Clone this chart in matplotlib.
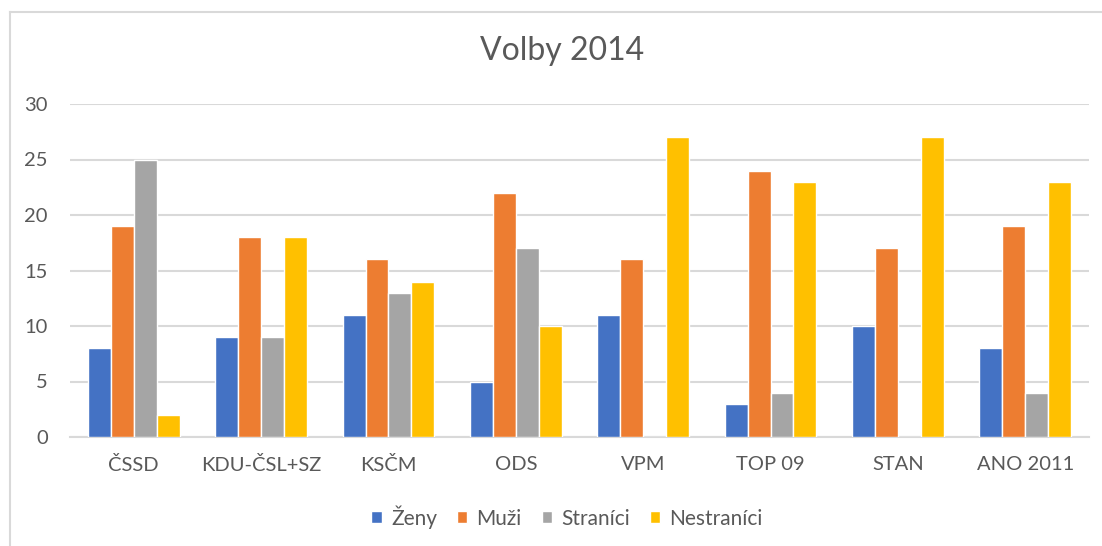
import numpy as np
import matplotlib
matplotlib.use("Agg")
import matplotlib.pyplot as plt
from matplotlib.lines import Line2D

# Data
strany = ["ČSSD", "KDU-ČSL+SZ", "KSČM", "ODS", "VPM", "TOP 09", "STAN", "ANO 2011"]
zeny = [8, 9, 11, 5, 11, 3, 10, 8]
muzi = [19, 18, 16, 22, 16, 24, 17, 19]
stranici = [25, 9, 13, 17, 0, 4, 0, 4]
nestranici = [2, 18, 14, 10, 27, 23, 27, 23]

serie = ["Ženy", "Muži", "Straníci", "Nestraníci"]
barvy = ["#4472C4", "#ED7D31", "#A5A5A5", "#FFC000"]
text_barva = "#595959"
mrizka = "#D9D9D9"

plt.rcParams["font.family"] = ["Lato", "DejaVu Sans"]

fig = plt.figure(figsize=(11.02, 5.46), dpi=100)
ax = fig.add_axes([70 / 1102, 1 - 437 / 546, (1089 - 70) / 1102, (437 - 104) / 546])

x = np.arange(len(strany))
sirka = 0.18
hodnoty = [zeny, muzi, stranici, nestranici]
for i, (nazev, data, barva) in enumerate(zip(serie, hodnoty, barvy)):
    ax.bar(x + (i - 1.5) * sirka, data, sirka, color=barva, label=nazev,
           edgecolor="white", linewidth=1.0, zorder=3)

ax.set_xlim(-0.5, len(strany) - 0.5)
ax.set_ylim(0, 30)
ax.set_yticks(range(0, 31, 5))
ax.set_xticks(x)
ax.set_xticklabels(strany)
ax.yaxis.grid(True, color=mrizka, linewidth=1.5, zorder=0)
ax.set_axisbelow(True)
for s in ["top", "right", "left"]:
    ax.spines[s].set_visible(False)
ax.spines["bottom"].set_color(mrizka)
ax.spines["bottom"].set_linewidth(1.5)
ax.tick_params(axis="both", length=0, labelsize=14.5, colors=text_barva)
ax.tick_params(axis="x", pad=14)
ax.tick_params(axis="y", pad=16)

fig.text(562 / 1102, 1 - 51 / 546, "Volby 2014", ha="center", va="center",
         fontsize=23, color=text_barva)

leg = fig.legend(loc="center", bbox_to_anchor=(567 / 1102, 1 - 517 / 546), ncol=4,
                 frameon=False, fontsize=15, handlelength=0.5, handleheight=0.5,
                 handletextpad=0.45, columnspacing=0.95)
for t in leg.get_texts():
    t.set_color(text_barva)

# okraj grafu (levy a horni)
fig.add_artist(Line2D([10 / 1102, 10 / 1102], [0, 1 - 12 / 546],
                      transform=fig.transFigure, color=mrizka, linewidth=1.5))
fig.add_artist(Line2D([10 / 1102, 1], [1 - 12 / 546, 1 - 12 / 546],
                      transform=fig.transFigure, color=mrizka, linewidth=1.5))

fig.savefig("out.png", dpi=100)
